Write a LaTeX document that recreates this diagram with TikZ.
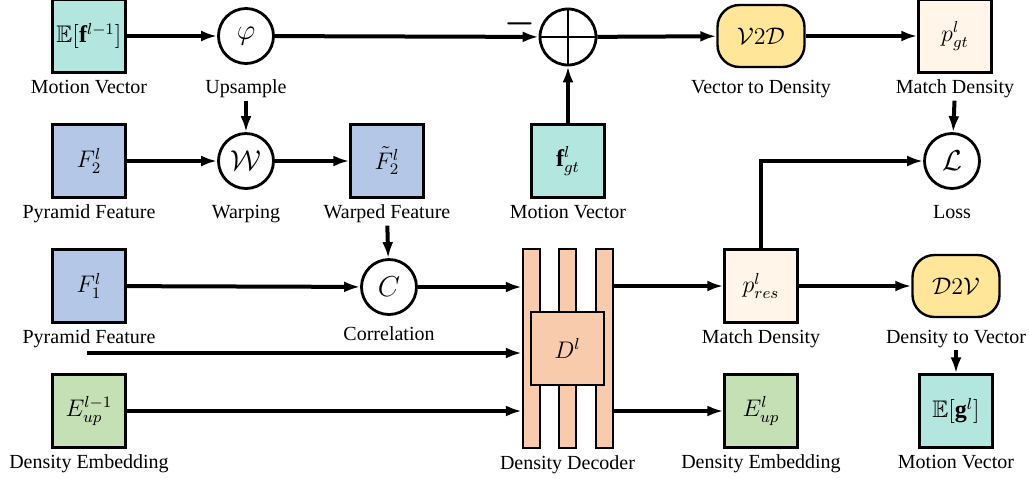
\documentclass[tikz,border=0pt]{standalone}
\usepackage{fontspec}
\setmainfont{Liberation Serif}
\usepackage{amsmath,amssymb}
\usetikzlibrary{arrows.meta,positioning}
\definecolor{motioncyan}{HTML}{B3E6DF}
\definecolor{featblue}{HTML}{B4C7E7}
\definecolor{embgreen}{HTML}{C5E0B4}
\definecolor{decorange}{HTML}{F8CBAD}
\definecolor{convyellow}{HTML}{FFE699}
\definecolor{densecream}{HTML}{FFF5E8}

\begin{document}
\begin{tikzpicture}[x=0.5pt,y=-0.5pt,
  feat/.style={draw,line width=1.2pt,minimum size=36.5pt,inner sep=0pt,font=\large},
  op/.style={circle,draw,line width=1.4pt,minimum size=27.5pt,inner sep=0pt,font=\Large},
  conv/.style={draw,line width=1.2pt,fill=convyellow,rounded corners=11pt,minimum width=43.5pt,minimum height=31pt,inner sep=0pt,font=\large},
  bar/.style={draw,line width=1.2pt,fill=decorange,minimum width=8.5pt,minimum height=99.5pt,inner sep=0pt},
  lbl/.style={font=\normalsize,inner sep=1pt},
  arr/.style={-{Latex[length=8pt,width=5.5pt]},line width=2pt}]
  \useasboundingbox (0,0) rectangle (1029,478);
  % left column
  \node[feat,fill=motioncyan] (ef) at (89,36) {$\mathbb{E}[\mathbf{f}^{l-1}]$};
  \node[lbl,below=2pt of ef] (lef) {Motion Vector};
  \node[feat,fill=featblue] (f2) at (89,161) {$F_2^l$};
  \node[lbl,below=2pt of f2] (lf2) {Pyramid Feature};
  \node[feat,fill=featblue] (f1) at (89,286) {$F_1^l$};
  \node[lbl,below=2pt of f1] (lf1) {Pyramid Feature};
  \node[feat,fill=embgreen] (eup1) at (89,411) {$E_{up}^{l-1}$};
  \node[lbl,below=2pt of eup1] (leup1) {Density Embedding};
  % operators
  \node[op] (phi) at (246,36) {$\varphi$};
  \node[lbl,anchor=north] (lphi) at (phi |- lef.north) {Upsample};
  \node[op] (warp) at (246,161) {$\mathcal{W}$};
  \node[lbl,anchor=north] (lwarp) at (warp |- lf2.north) {Warping};
  \node[feat,fill=featblue] (f2w) at (387,161) {$\tilde{F}_2^l$};
  \node[lbl,below=2pt of f2w] (lf2w) {Warped Feature};
  \node[op] (corr) at (389,287) {$C$};
  \node[lbl,below=4pt of corr] (lcorr) {Correlation};
  % decoder
  \foreach \n/\x in {bar1/531.5,bar2/567.5,bar3/604.5}
    \node[bar] (\n) at (\x,348.5) {};
  \node[feat,fill=decorange] (dec) at (567.5,348.5) {$D^l$};
  \node[lbl,below=2pt of bar2] (ldec) {Density Decoder};
  % ground truth branch
  \node[op,minimum size=28pt] (plus) at (568,37) {};
  \draw[line width=1.4pt] (plus.north) -- (plus.south) (plus.west) -- (plus.east);
  \node[font=\LARGE,inner sep=0pt] (minus) at (520,24) {$\boldsymbol{-}$};
  \node[feat,fill=motioncyan] (fgt) at (568,161) {$\mathbf{f}_{gt}^l$};
  \node[lbl,below=2pt of fgt] (lfgt) {Motion Vector};
  \node[conv] (v2d) at (761,36) {$\mathcal{V}2\mathcal{D}$};
  \node[lbl,anchor=north] (lv2d) at (v2d |- lef.north) {Vector to Density};
  \node[feat,fill=densecream] (pgt) at (955,36) {$p_{gt}^l$};
  \node[lbl,below=2pt of pgt] (lpgt) {Match Density};
  \node[op] (loss) at (952,161) {$\mathcal{L}$};
  \node[lbl,anchor=north] (lloss) at (loss |- lf2.north) {Loss};
  % outputs
  \node[feat,fill=densecream] (pres) at (761,286) {$p_{res}^l$};
  \node[lbl,below=2pt of pres] (lpres) {Match Density};
  \node[conv] (d2v) at (956,286) {$\mathcal{D}2\mathcal{V}$};
  \node[lbl,anchor=north] (ld2v) at (d2v |- lf1.north) {Density to Vector};
  \node[feat,fill=embgreen] (eup) at (761,411) {$E_{up}^l$};
  \node[lbl,below=2pt of eup] (leup) {Density Embedding};
  \node[feat,fill=motioncyan] (eg) at (956,411) {$\mathbb{E}[\mathbf{g}^l]$};
  \node[lbl,below=2pt of eg] (leg) {Motion Vector};
  % connectors
  \path (bar1.west) ++(0,4.5) coordinate (din);
  \draw[arr] (ef) -- (phi);
  \draw[arr] (phi) -- (plus);
  \draw[arr] (lphi) -- (warp);
  \draw[arr] (f2) -- (warp);
  \draw[arr] (warp) -- (f2w);
  \draw[arr] (lf2w) -- (corr);
  \draw[arr] (f1) -- (corr);
  \draw[arr] (corr) -- (corr -| bar1.west);
  \draw[arr] (lf1.south) |- (din);
  \draw[arr] (eup1) -- (eup1 -| bar1.west);
  \draw[arr] (bar3.east |- pres) -- (pres);
  \draw[arr] (bar3.east |- eup) -- (eup);
  \draw[arr] (fgt) -- (plus);
  \draw[arr] (plus) -- (v2d);
  \draw[arr] (v2d) -- (pgt);
  \draw[arr] (lpgt) -- (loss);
  \draw[arr] (pres.north) |- (loss);
  \draw[arr] (pres) -- (d2v);
  \draw[arr] (ld2v) -- (eg);
\end{tikzpicture}
\end{document}
